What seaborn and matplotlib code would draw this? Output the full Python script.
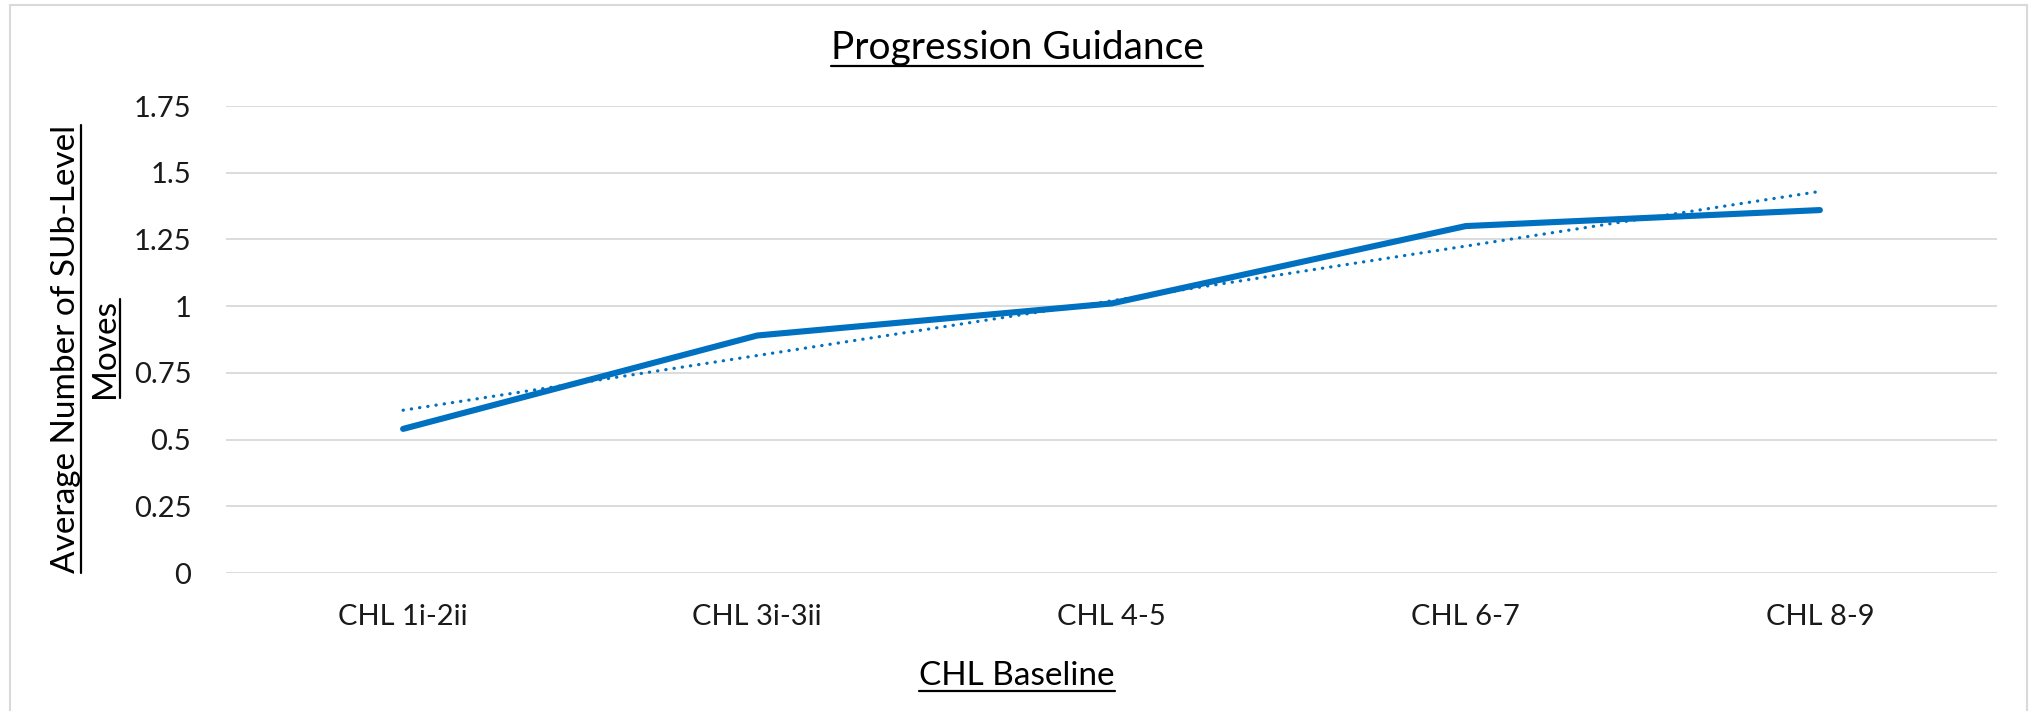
import matplotlib
matplotlib.use("Agg")
import matplotlib.pyplot as plt
import numpy as np
import pandas as pd
import seaborn as sns
from matplotlib.lines import Line2D
from matplotlib.patches import Rectangle

baselines = ["CHL 1i-2ii", "CHL 3i-3ii", "CHL 4-5", "CHL 6-7", "CHL 8-9"]
avg_moves = [0.54, 0.89, 1.01, 1.30, 1.36]
y_ticks = [0, 0.25, 0.5, 0.75, 1, 1.25, 1.5, 1.75]
y_tick_labels = ["0", "0.25", "0.5", "0.75", "1", "1.25", "1.5", "1.75"]

BLUE = "#0070C0"
GRID = "#D9D9D9"
FONT = "Lato"

W, H = 2031, 711


def underline(fig, txt, lw=1.6):
    # draw a line under a text item (vertical one for rotated text)
    renderer = fig.canvas.get_renderer()
    bb = txt.get_window_extent(renderer)
    inv = fig.transFigure.inverted()
    (x0, y0), (x1, y1) = inv.transform([(bb.x0, bb.y0), (bb.x1, bb.y1)])
    if txt.get_rotation() == 90:
        fig.add_artist(Line2D([x1, x1], [y0, y1], color="black", lw=lw))
    else:
        fig.add_artist(Line2D([x0, x1], [y0, y0], color="black", lw=lw))


sns.set_theme(style="white")
plt.rcParams["font.family"] = [FONT, "DejaVu Sans"]

df = pd.DataFrame({"baseline": baselines, "moves": avg_moves})
# linear trendline like the spreadsheet one
pos = np.arange(len(baselines))
slope, icpt = np.polyfit(pos, avg_moves, 1)
df["trend"] = icpt + slope * pos

fig = plt.figure(figsize=(W / 100, H / 100), dpi=100)
ax = fig.add_axes([226 / W, 1 - 573 / H, (1997 - 226) / W, (573 - 106) / H])

sns.lineplot(data=df, x="baseline", y="trend", ax=ax, color=BLUE, lw=2.3,
             linestyle=(0, (0.1, 2.5)), dash_capstyle="round", sort=False)
sns.lineplot(data=df, x="baseline", y="moves", ax=ax, color=BLUE, lw=4.4,
             solid_capstyle="round", sort=False)

ax.set_xlim(-0.5, len(baselines) - 0.5)
ax.set_ylim(0, 1.75)
ax.set_yticks(y_ticks)
ax.set_yticklabels(y_tick_labels)
ax.yaxis.grid(True, color=GRID, lw=1.3)
ax.set_axisbelow(True)
for s in ax.spines.values():
    s.set_visible(False)
ax.tick_params(axis="both", length=0, labelsize=21, labelcolor="#1a1a1a")
ax.tick_params(axis="y", pad=25)
ax.tick_params(axis="x", pad=22)
ax.set_xlabel("")
ax.set_ylabel("")

title = fig.text(1017 / W, 1 - 59 / H, "Progression Guidance", ha="center",
                 va="baseline", fontsize=28, color="black")
xlab = fig.text(1017 / W, 1 - 676 / H, "CHL Baseline", ha="center",
                va="center", fontsize=24, color="black")
ylab1 = fig.text(66 / W, 1 - 349 / H, "Average Number of SUb-Level",
                 rotation=90, ha="center", va="center", fontsize=24, color="black")
ylab2 = fig.text(105 / W, 1 - 348 / H, "Moves", rotation=90, ha="center",
                 va="center", fontsize=24, color="black")

# light frame around the chart area
fig.add_artist(Rectangle((10 / W, -0.05), (2027 - 10) / W, 1.05 - 5 / H,
                         transform=fig.transFigure, fill=False,
                         edgecolor=GRID, lw=1.5))

fig.canvas.draw()
for t in (title, xlab, ylab1, ylab2):
    underline(fig, t)

fig.savefig("out.png", dpi=100)
